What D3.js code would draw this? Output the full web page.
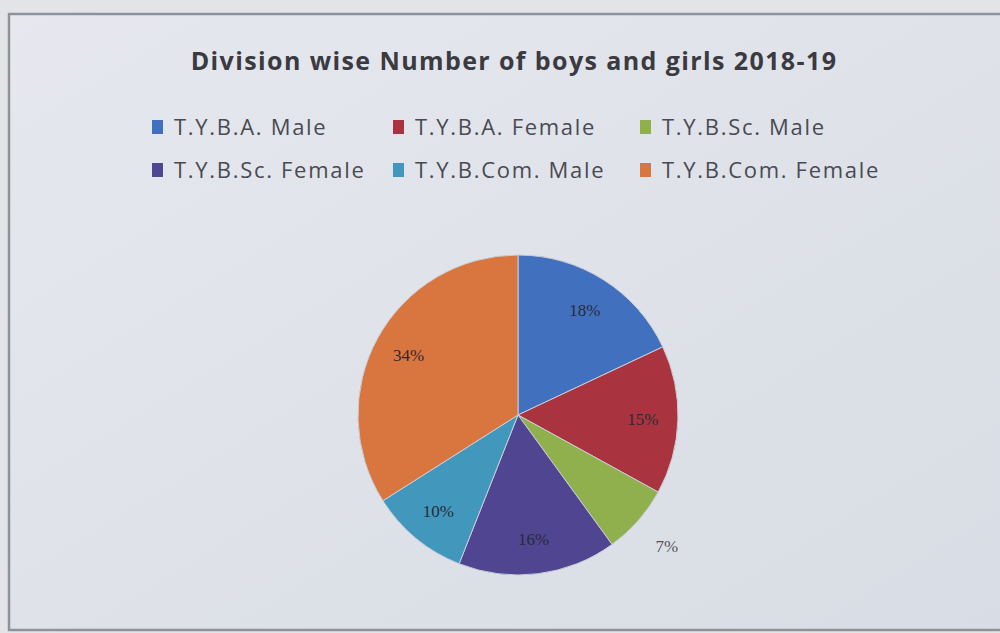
<!DOCTYPE html>
<html><head><meta charset="utf-8">
<script src="https://cdn.jsdelivr.net/npm/d3@7"></script>
<style>body{margin:0;background:#dfe1e6;}svg{display:block;}</style>
</head><body>
<svg id="c" width="1000" height="633"></svg>
<script>
const categories = ["T.Y.B.A. Male","T.Y.B.A. Female","T.Y.B.Sc. Male","T.Y.B.Sc. Female","T.Y.B.Com. Male","T.Y.B.Com. Female"];
const values = [18, 15, 7, 16, 10, 34];
const labels = ["18%","15%","7%","16%","10%","34%"];
const colors = ["#4170bf","#a9343f","#8fb04c","#4f4590","#4297bd","#d9753f"];
const title = "Division wise Number of boys and girls 2018-19";

const svg = d3.select("#c");
const defs = svg.append("defs");
const g = defs.append("linearGradient").attr("id","bg").attr("x1",0).attr("y1",0).attr("x2",1).attr("y2",1);
g.append("stop").attr("offset","0%").attr("stop-color","#e6e8ee");
g.append("stop").attr("offset","100%").attr("stop-color","#d8dce4");
svg.append("rect").attr("width",1000).attr("height",633).attr("fill","#e2e4e8");
svg.append("rect").attr("x",9).attr("y",14).attr("width",1000).attr("height",616)
  .attr("fill","url(#bg)").attr("stroke","#8e9299").attr("stroke-width",2.5);

svg.append("text").attr("x",514).attr("y",70).attr("text-anchor","middle")
  .attr("font-family","Open Sans, sans-serif").attr("font-weight","bold").attr("font-size",25)
  .attr("letter-spacing",1.4).attr("fill","#3a3a40").text(title);

// legend
const lx = d3.scaleOrdinal().domain([0,1,2]).range([152,393,640]);
const ly = d3.scaleOrdinal().domain([0,1]).range([127,170]);
const leg = svg.append("g").selectAll("g").data(categories).join("g")
  .attr("transform",(d,i)=>`translate(${lx(i%3)},${ly(Math.floor(i/3))})`);
leg.append("rect").attr("x",0).attr("y",-7).attr("width",11).attr("height",14).attr("fill",(d,i)=>colors[i]);
leg.append("text").attr("x",22).attr("y",8).attr("font-family","Open Sans, sans-serif").attr("font-size",22)
  .attr("letter-spacing",1.7).attr("fill","#4a4a52").text(d=>d);

// pie
const cx = 518, cy = 415, R = 160;
const pie = d3.pie().sort(null).value(d=>d)(values);
const arc = d3.arc().innerRadius(0).outerRadius(R);
const pg = svg.append("g").attr("transform",`translate(${cx},${cy})`);
pg.selectAll("path").data(pie).join("path").attr("d",arc).attr("fill",(d,i)=>colors[i])
  .attr("stroke","#c9cdd6").attr("stroke-width",1);
pg.selectAll("text").data(pie).join("text")
  .attr("transform",d=>{
    const a=(d.startAngle+d.endAngle)/2; const r = d.value<8 ? R*1.24 : R*0.78;
    return `translate(${Math.sin(a)*r},${-Math.cos(a)*r})`;
  })
  .attr("text-anchor","middle").attr("dy","0.35em")
  .attr("font-family","Liberation Serif, serif").attr("font-size",17)
  .attr("fill",d=>d.value<8?"#555":"#2a2a3a").text((d,i)=>labels[i]);
</script>
</body></html>
